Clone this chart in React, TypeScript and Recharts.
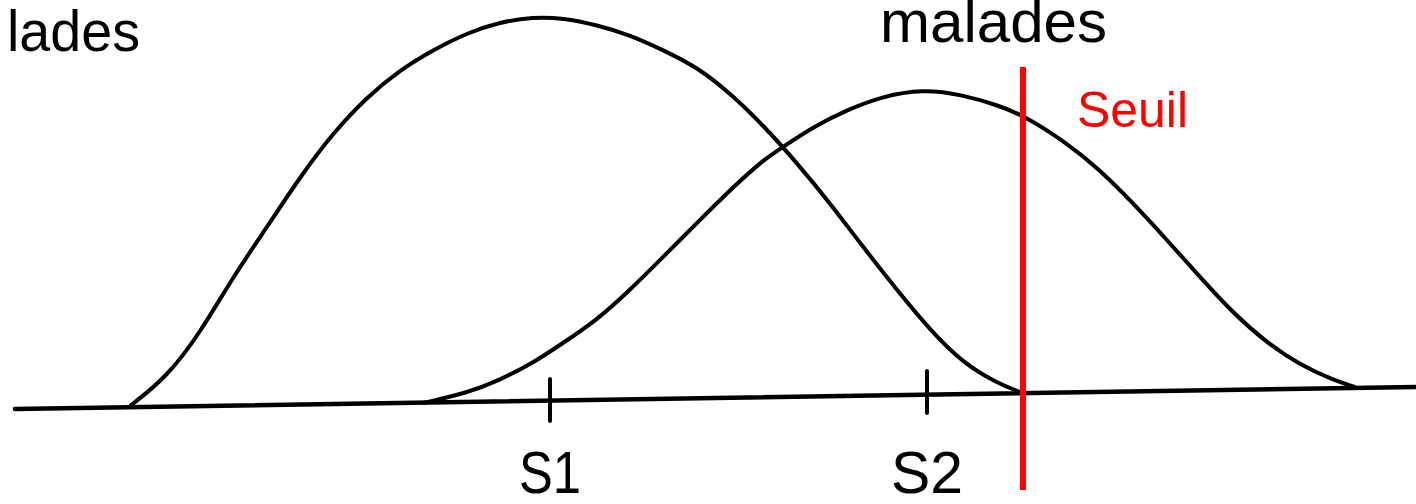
import React from 'react';
import { LineChart, Line, XAxis, YAxis, ReferenceLine, ReferenceDot } from 'recharts';

// Horizontal positions along the test-value axis and curve heights above the chart floor.
const nonMaladesX = [130, 167, 200, 233, 267, 300, 333, 367, 400, 433, 467, 500, 533, 563, 597, 630, 663, 697, 730, 763, 797, 830, 863, 897, 930, 963, 997, 1020];
const nonMaladesY = [98, 127, 171, 227, 277, 327, 371, 407, 434, 454, 471, 482, 487, 486, 479, 469, 454, 437, 411, 379, 341, 301, 257, 214, 174, 141, 121, 112];

const maladesX = [423, 467, 500, 533, 563, 597, 630, 663, 697, 730, 763, 783, 813, 847, 880, 923, 963, 997, 1023, 1067, 1100, 1133, 1167, 1200, 1233, 1267, 1300, 1333, 1355];
const maladesY = [101, 111, 124, 141, 161, 184, 214, 247, 281, 314, 344, 357, 377, 394, 407, 415, 409, 399, 389, 361, 334, 301, 264, 227, 191, 161, 139, 124, 117];

// Axis line (slightly tilted) end points
const axisX = [15, 1416];
const axisY = [95, 117];

// Tick marks under each distribution mean
const tickX = [550, 927];
const tickLow = [83, 91];
const tickHigh = [125, 133];
const tickLabels = ['S1', 'S2'];
const tickLabelWidths = [62, 72];

// Decision threshold
const seuilX = 1023;
const seuilRange = [14, 437];

const W = 1416;
const H = 504;

const toPoints = (xs: number[], ys: number[]) => xs.map((x, i) => ({ x, y: ys[i] }));

const nonMaladesData = toPoints(nonMaladesX, nonMaladesY);
const maladesData = toPoints(maladesX, maladesY);
const axisData = toPoints(axisX, axisY);

const FONT = '"Liberation Sans", Arial, sans-serif';

type CaptionOpts = {
  text: string;
  size: number;
  anchor?: 'start' | 'middle' | 'end';
  color?: string;
  length?: number;
};

const caption = (opts: CaptionOpts) => (props: any) => {
  const vb = props.viewBox || {};
  const x = (vb.x ?? 0) + (vb.width ?? 0) / 2;
  const y = (vb.y ?? 0) + (vb.height ?? 0) / 2;
  return (
    <text
      x={x}
      y={y}
      fontFamily={FONT}
      fontSize={opts.size}
      fill={opts.color || '#000'}
      textAnchor={opts.anchor || 'start'}
      {...(opts.length ? { textLength: opts.length, lengthAdjust: 'spacingAndGlyphs' } : {})}
    >
      {opts.text}
    </text>
  );
};

export default function App() {
  return (
    <div style={{ position: 'absolute', left: 0, top: 0, width: W, height: H, background: '#fff' }}>
      <LineChart width={W} height={H} margin={{ top: 0, right: 0, bottom: 0, left: 0 }}>
        <XAxis type="number" dataKey="x" domain={[0, W]} hide allowDataOverflow />
        <YAxis type="number" dataKey="y" domain={[0, H]} hide allowDataOverflow />

        <Line
          data={axisData}
          dataKey="y"
          type="linear"
          stroke="#000"
          strokeWidth={4.5}
          strokeLinecap="round"
          dot={false}
          activeDot={false}
          isAnimationActive={false}
        />
        <Line
          data={nonMaladesData}
          dataKey="y"
          type="basis"
          stroke="#000"
          strokeWidth={4}
          dot={false}
          activeDot={false}
          isAnimationActive={false}
        />
        <Line
          data={maladesData}
          dataKey="y"
          type="basis"
          stroke="#000"
          strokeWidth={4}
          dot={false}
          activeDot={false}
          isAnimationActive={false}
        />

        {tickX.map((x, i) => (
          <ReferenceLine
            key={`tick-${i}`}
            segment={[{ x, y: tickLow[i] }, { x, y: tickHigh[i] }]}
            stroke="#000"
            strokeWidth={4}
            strokeLinecap="round"
          />
        ))}
        {tickX.map((x, i) => (
          <ReferenceDot
            key={`tick-label-${i}`}
            x={x}
            y={11}
            r={0}
            fill="none"
            stroke="none"
            label={caption({ text: tickLabels[i], size: 60, anchor: 'middle', length: tickLabelWidths[i] })}
          />
        ))}

        <ReferenceLine
          segment={[{ x: seuilX, y: seuilRange[0] }, { x: seuilX, y: seuilRange[1] }]}
          stroke="#ff0000"
          strokeWidth={6}
        />

        <ReferenceDot x={140} y={453} r={0} fill="none" stroke="none"
          label={caption({ text: 'lades', size: 58, anchor: 'end', length: 133 })} />
        <ReferenceDot x={880} y={462} r={0} fill="none" stroke="none"
          label={caption({ text: 'malades', size: 60, length: 227 })} />
        <ReferenceDot x={1077} y={377} r={0} fill="none" stroke="none"
          label={caption({ text: 'Seuil', size: 50, color: '#ff0000', length: 111 })} />
      </LineChart>
    </div>
  );
}
